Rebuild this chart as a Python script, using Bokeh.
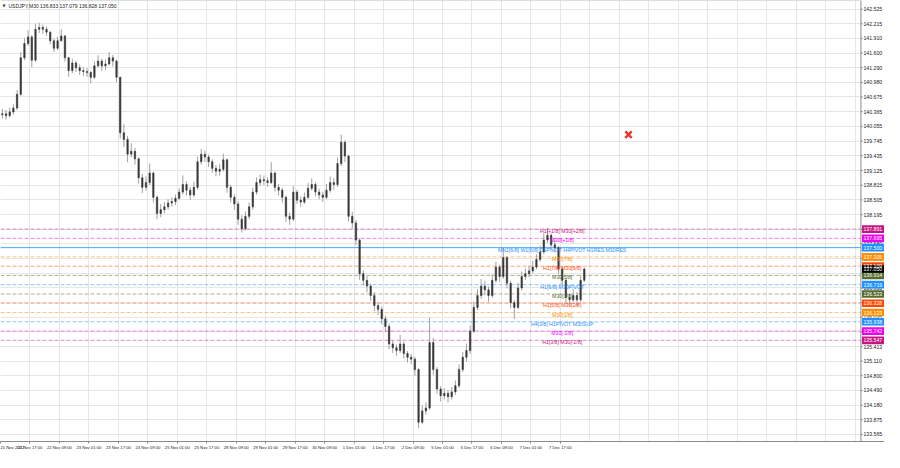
from bokeh.plotting import figure
from bokeh.models import FixedTicker, Label, Range1d, Span
from bokeh.core.properties import value
from bokeh.embed import file_html
from bokeh.resources import INLINE

# ---- data: USDJPY, candles of 2 hours (4 x M30 bars) ----
first_open = 140.30
closes = [140.32, 140.28, 140.36, 140.44, 140.73, 141.50, 141.80, 141.94, 141.45, 142.10,
          142.14, 142.10, 142.04, 141.86, 141.70, 141.86, 141.96, 141.50, 141.23, 141.39,
          141.29, 141.23, 141.21, 141.19, 141.09, 141.33, 141.43, 141.33, 141.37, 141.50,
          141.43, 141.09, 139.92, 139.78, 139.47, 139.53, 139.37, 138.97, 138.77, 138.87,
          139.07, 138.56, 138.22, 138.30, 138.36, 138.44, 138.47, 138.54, 138.67, 138.83,
          138.71, 138.61, 138.77, 139.31, 139.47, 139.41, 139.31, 139.17, 139.11, 139.15,
          139.35, 138.77, 138.56, 138.42, 138.10, 137.90, 138.16, 138.36, 138.67, 138.87,
          138.93, 138.91, 138.87, 139.07, 138.77, 138.71, 138.56, 138.16, 138.10, 138.67,
          138.50, 138.46, 138.56, 138.75, 138.83, 138.67, 138.61, 138.56, 138.71, 138.87,
          138.83, 139.27, 139.72, 139.43, 138.16, 138.02, 137.66, 136.95, 136.81, 136.69,
          136.49, 136.28, 136.20, 136.00, 135.84, 135.47, 135.39, 135.33, 135.47, 135.27,
          135.19, 135.15, 134.93, 133.82, 134.06, 134.12, 135.50, 134.93, 134.52, 134.38,
          134.43, 134.36, 134.46, 134.59, 134.93, 135.19, 135.33, 135.74, 136.24, 136.49,
          136.69, 136.61, 136.49, 136.81, 137.09, 136.89, 137.29, 136.75, 136.34, 136.24,
          136.65, 136.89, 136.95, 137.01, 137.09, 137.25, 137.41, 137.66, 137.76, 137.56,
          137.50, 137.05, 136.81, 136.45, 136.40, 136.49, 136.40, 136.81, 137.05]
highs = [140.42, 140.40, 140.45, 140.52, 140.82, 141.62, 141.92, 142.08, 141.98, 142.22,
         142.24, 142.20, 142.16, 142.06, 141.90, 141.94, 142.10, 141.98, 141.52, 141.48,
         141.44, 141.36, 141.30, 141.28, 141.22, 141.42, 141.55, 141.48, 141.46, 141.62,
         141.56, 141.46, 141.10, 140.10, 139.85, 139.70, 139.60, 139.40, 139.05, 139.00,
         139.27, 139.10, 138.60, 138.42, 138.46, 138.52, 138.56, 138.62, 138.75, 139.02,
         138.90, 138.78, 138.88, 139.42, 139.58, 139.55, 139.46, 139.36, 139.24, 139.26,
         139.48, 139.38, 138.82, 138.62, 138.48, 138.18, 138.26, 138.45, 138.76, 138.98,
         139.04, 139.02, 138.98, 139.30, 139.10, 138.84, 138.76, 138.60, 138.24, 138.80,
         138.72, 138.58, 138.66, 138.86, 138.96, 138.88, 138.74, 138.68, 138.84, 139.00,
         138.96, 139.40, 139.88, 139.76, 139.46, 138.26, 138.08, 137.70, 137.02, 136.90,
         136.74, 136.56, 136.36, 136.26, 136.06, 135.90, 135.54, 135.46, 135.66, 135.52,
         135.32, 135.26, 135.20, 134.96, 134.18, 134.24, 136.02, 135.60, 134.98, 134.58,
         134.54, 134.50, 134.56, 134.70, 135.04, 135.30, 135.48, 135.86, 136.36, 136.62,
         136.84, 136.80, 136.68, 136.94, 137.20, 137.14, 137.50, 137.32, 136.80, 136.40,
         136.76, 137.00, 137.06, 137.12, 137.22, 137.36, 137.54, 137.80, 137.92, 137.80,
         137.66, 137.54, 137.10, 136.86, 136.54, 136.62, 136.56, 136.92, 137.08]
lows = [140.22, 140.20, 140.24, 140.30, 140.40, 140.70, 141.45, 141.75, 141.30, 141.42,
        142.02, 142.00, 141.96, 141.78, 141.62, 141.66, 141.84, 141.42, 141.10, 141.18,
        141.20, 141.14, 141.12, 141.10, 140.96, 141.05, 141.30, 141.22, 141.24, 141.34,
        141.32, 140.98, 139.80, 139.62, 139.30, 139.40, 139.25, 138.85, 138.65, 138.70,
        138.82, 138.45, 138.10, 138.14, 138.22, 138.30, 138.36, 138.40, 138.50, 138.62,
        138.60, 138.50, 138.56, 138.72, 139.25, 139.30, 139.20, 139.08, 139.00, 139.02,
        139.10, 138.66, 138.45, 138.30, 137.98, 137.82, 137.86, 138.10, 138.30, 138.62,
        138.80, 138.82, 138.78, 138.84, 138.68, 138.60, 138.45, 138.04, 137.98, 138.06,
        138.42, 138.36, 138.42, 138.52, 138.70, 138.58, 138.52, 138.46, 138.52, 138.66,
        138.72, 138.78, 139.22, 139.30, 138.05, 137.90, 137.55, 136.82, 136.70, 136.56,
        136.38, 136.16, 136.08, 135.88, 135.72, 135.36, 135.28, 135.22, 135.28, 135.16,
        135.08, 135.04, 134.80, 133.70, 133.78, 133.98, 134.08, 134.82, 134.42, 134.26,
        134.30, 134.24, 134.30, 134.40, 134.54, 134.88, 135.10, 135.26, 135.70, 136.18,
        136.42, 136.50, 136.36, 136.44, 136.76, 136.78, 136.84, 136.64, 136.22, 136.00,
        136.20, 136.60, 136.82, 136.88, 136.96, 137.04, 137.20, 137.36, 137.60, 137.46,
        137.40, 136.94, 136.70, 136.34, 136.28, 136.36, 136.26, 136.36, 136.78]

time_labels = ["21 Nov 2022", "21 Nov 17:00", "22 Nov 09:00", "23 Nov 01:00", "23 Nov 17:00",
               "24 Nov 09:00", "25 Nov 01:00", "25 Nov 17:00", "28 Nov 09:00", "29 Nov 01:00",
               "29 Nov 17:00", "30 Nov 09:00", "1 Dec 01:00", "1 Dec 17:00", "2 Dec 09:00",
               "5 Dec 01:00", "5 Dec 17:00", "6 Dec 09:00", "7 Dec 01:00", "7 Dec 17:00"]
price_ticks = [142.525, 142.215, 141.910, 141.600, 141.290, 140.980, 140.675, 140.365, 140.055,
               139.745, 139.435, 139.125, 138.815, 138.505, 138.195, 137.885, 137.580, 137.270,
               136.960, 136.650, 136.340, 136.035, 135.725, 135.413, 135.110, 134.800, 134.490,
               134.180, 133.875, 133.565]

level_prices = [137.891, 137.695, 137.500, 137.305, 137.109, 136.914, 136.719, 136.523,
                136.328, 136.133, 135.938, 135.742, 135.547]
level_names = ["H1[+1/8] M30[+2/8]", "M30[+1/8]", "MN1[6/8] W1[6/8] D1PIVOT H4PIVOT H1RES M30RES",
               "M30[7/8]", "H1[7/8] M30[6/8]", "M30[5/8]", "H1[6/8] M30PIVOT", "M30[3/8]",
               "H1[5/8] M30[2/8]", "M30[1/8]", "H4[3/8] H1PIVOT M30SUP", "M30[-1/8]",
               "H1[3/8] M30[-2/8]"]
current_price = 137.050
header = "USDJPY,M30  136.833 137.079 136.828 137.050"
cross_bar = 170
cross_price = 139.88

# ---- styles ----
level_colors = ["#c71585", "#ee00ee", "#1e90ff", "#ff8c00", "#ff4500", "#556b2f", "#1e90ff",
                "#556b2f", "#ff4500", "#ff8c00", "#1e90ff", "#ee00ee", "#c71585"]
level_dashes = ["4 2", "4 2", "solid", "4 2", "4 2", "4 2", "4 2", "4 2", "4 2", "4 2", "4 2",
                "4 2", "4 2"]
FONT = "Liberation Sans"
BORDER = "#8a8a8a"

n = len(closes)
idx = list(range(n))
opens = [first_open] + closes[:-1]
tops = [max(o, c) for o, c in zip(opens, closes)]
bots = [min(o, c) for o, c in zip(opens, closes)]

X0, XB, XE = -0.5, 233.1, 239.5   # chart start, price-scale border, page end (bar units)
Y0, Y1 = 133.415, 142.707
PX = (Y1 - Y0) / 460.0            # price per reference pixel

p = figure(width=884, height=452, output_backend="svg", toolbar_location=None,
           x_range=Range1d(X0, XE), y_range=Range1d(Y0, Y1),
           y_axis_location=None, min_border=0)
p.background_fill_color = "white"
p.border_fill_color = "white"
p.outline_line_color = None

# grid
grid_x = [8 * k - 0.5 for k in range(30)]
p.xgrid.ticker = FixedTicker(ticks=grid_x)
p.ygrid.ticker = FixedTicker(ticks=price_ticks)
p.grid.grid_line_color = "#e6e6e6"
p.grid.grid_line_width = 1

# x axis
tick_x = [8 * k - 0.5 for k in range(len(time_labels))]
p.xaxis.ticker = FixedTicker(ticks=tick_x)
p.xaxis.major_label_overrides = {t: lab for t, lab in zip(tick_x, time_labels)}
p.xaxis.major_label_text_align = "left"
p.xaxis.major_label_text_font = FONT
p.xaxis.major_label_text_font_size = "4.2px"
p.xaxis.major_label_text_color = "#222222"
p.xaxis.major_label_standoff = 1
p.xaxis.major_tick_out = 2
p.xaxis.major_tick_in = 0
p.xaxis.minor_tick_out = 0
p.xaxis.axis_line_color = BORDER
p.xaxis.major_tick_line_color = BORDER

# level lines
for lv, col, dash in zip(level_prices, level_colors, level_dashes):
    p.add_layout(Span(location=lv, dimension="width", line_color=col, line_dash=dash,
                      line_width=1, line_alpha=0.5 if dash != "solid" else 0.8, level="underlay"))

# candles
p.segment(x0=idx, y0=highs, x1=idx, y1=lows, line_color="#a0a0a0", line_width=1)
p.vbar(x=idx, width=0.38, top=tops, bottom=bots, fill_color="#383838", line_color="#383838",
       line_width=0.6)

# level text labels
label_x = [152] * len(level_prices)
p.text(x=label_x, y=level_prices, text=level_names, text_color=level_colors,
       text_font=value(FONT), text_font_size="5.2px", text_align="center",
       text_baseline="middle", y_offset=2)

# red cross
p.scatter(x=[cross_bar], y=[cross_price], marker="x", size=9, line_color="#e8382e", line_width=2.5)

# header
p.add_layout(Label(x=X0, y=Y1, x_offset=2, y_offset=-2, text="\u25bc", text_font="DejaVu Sans",
                   text_font_size="4px", text_baseline="top", text_color="#333333"))
p.add_layout(Label(x=X0, y=Y1, x_offset=8, y_offset=-2, text=header, text_font=FONT,
                   text_font_size="5px", text_baseline="top", text_color="#222222"))

# ---- price scale column (right) ----
p.quad(left=[XB], right=[XE], bottom=[Y0], top=[Y1], fill_color="white", line_color=None)
p.segment(x0=[XB], y0=[Y0], x1=[XB], y1=[Y1], line_color=BORDER, line_width=1)
p.segment(x0=[X0], y0=[Y1], x1=[XB], y1=[Y1], line_color="#bdbdbd", line_width=1)
nt = len(price_ticks)
p.segment(x0=[XB] * nt, y0=price_ticks, x1=[XB + 0.5] * nt, y1=price_ticks,
          line_color=BORDER, line_width=1)
p.text(x=[XB] * nt, y=price_ticks, text=[f"{t:.3f}" for t in price_ticks], x_offset=2.5,
       text_font=value(FONT), text_font_size="5.2px", text_color="#222222",
       text_align="left", text_baseline="middle")

box_prices = level_prices + [current_price]
box_colors = level_colors + ["#000000"]
nb = len(box_prices)
p.quad(left=[XB + 0.3] * nb, right=[XE] * nb,
       bottom=[b - 4 * PX for b in box_prices], top=[b + 4 * PX for b in box_prices],
       fill_color=box_colors, line_color=None)
p.text(x=[XB] * nb, y=box_prices, text=[f"{b:.3f}" for b in box_prices], x_offset=2.5,
       text_font=value(FONT), text_font_size="5.2px", text_color="white",
       text_align="left", text_baseline="middle")

open("out.html", "w").write(file_html(p, INLINE))
